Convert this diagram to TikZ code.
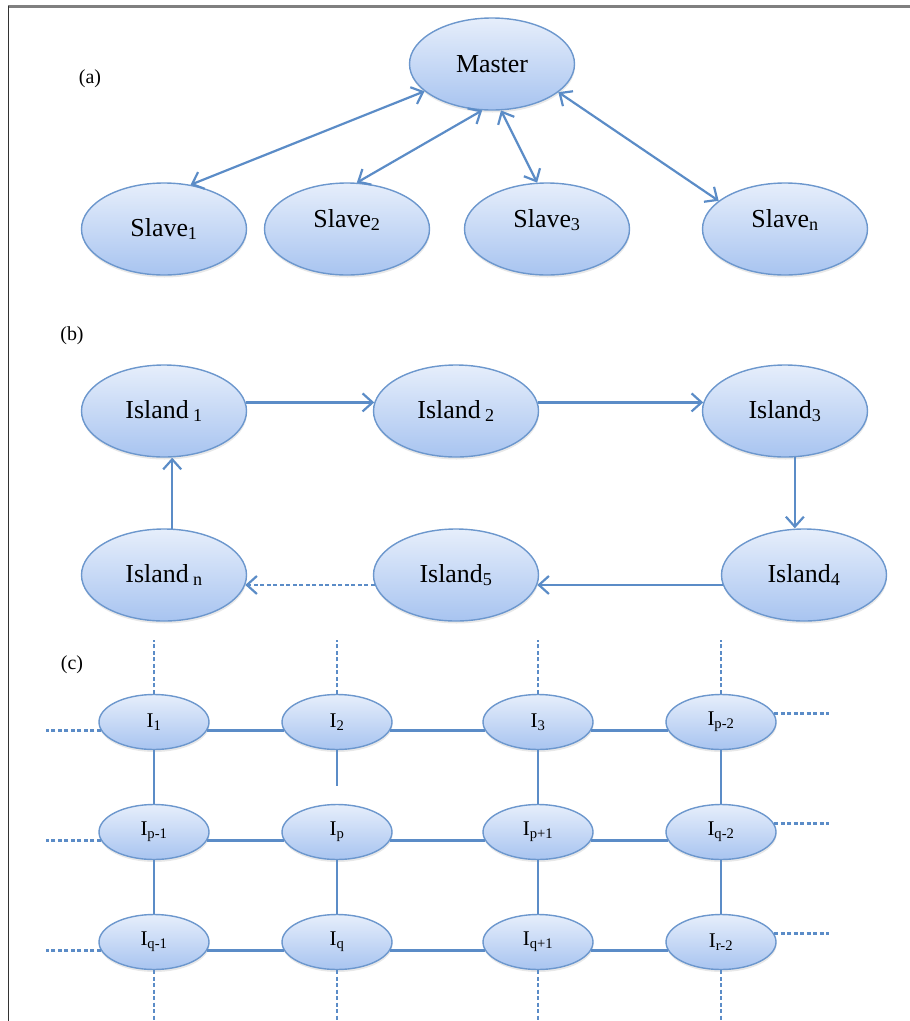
\documentclass[tikz,border=0pt]{standalone}
\usepackage{fontspec}
\setmainfont{Liberation Serif}
\usetikzlibrary{shapes.geometric,arrows.meta,shadows}
\definecolor{linkblue}{HTML}{5B8CC7}
\definecolor{rimblue}{HTML}{6C97CD}
\definecolor{topblue}{HTML}{E6EEFB}
\definecolor{botblue}{HTML}{A8C4F0}
\newcommand{\lift}[1]{\raisebox{9bp}[\height][\depth]{#1}}
\begin{document}
\begin{tikzpicture}[x=1bp,y=-1bp,
		bubble/.style={ellipse,draw=rimblue,line width=1.4bp,top color=topblue,bottom color=botblue,
			drop shadow={opacity=0.18,shadow xshift=0.5bp,shadow yshift=-2.5bp},
			inner sep=0pt,minimum width=165bp,minimum height=92bp,font=\fontsize{26}{28}\selectfont},
		cell/.style={bubble,minimum width=110bp,minimum height=55bp,font=\fontsize{21}{24}\selectfont},
		link/.style={linkblue,line width=2.2bp},
		loose/.style={link,dash pattern=on 4bp off 2.5bp},
		tag/.style={font=\fontsize{20}{22}\selectfont},
		>={Straight Barb[length=10bp,width=18bp]}]
		\useasboundingbox (0,0) rectangle (910,1021);
		\draw[black!50,line width=2.5bp] (8,6.5) -- (910,6.5);
		\draw[black!80,line width=1.2bp] (8.5,6) -- (8.5,1021);
		% (a)
		\node[tag] (ta) at (90,79) {(a)};
		\node[bubble] (m) at (492,64) {Master};
		\node[bubble] (s1) at (164,229) {Slave\textsubscript{1}};
		\node[bubble] (s2) at (347,229) {\lift{Slave\textsubscript{2}}};
		\node[bubble] (s3) at (547,229) {\lift{Slave\textsubscript{3}}};
		\node[bubble] (sn) at (785,229) {\lift{Slave\textsubscript{n}}};
		\draw[link,<->] (m.202) -- (s1.59);
		\draw[link,<->] (m.258) -- (s2.78);
		\draw[link,<->] (m.281) -- (s3.102);
		\draw[link,<->] (m.337) -- (sn.157);
		% (b)
		\node[tag] (tb) at (72,336) {(b)};
		\node[bubble] (i1) at (164,411) {Island\,\textsubscript{1}};
		\node[bubble] (i2) at (456,411) {Island\,\textsubscript{2}};
		\node[bubble] (i3) at (785,411) {Island\textsubscript{3}};
		\node[bubble] (i4) at (804,575) {Island\textsubscript{4}};
		\node[bubble] (i5) at (456,575) {Island\textsubscript{5}};
		\node[bubble] (in) at (164,575) {Island\,\textsubscript{n}};
		\draw[link,->] (i1.6) -- (i2.174);
		\draw[link,->] (i2.6) -- (i3.174);
		\draw[link,->] (i3.282) -- (i3.282 |- i4.north);
		\draw[link,->] (i4.187) -- (i5.353);
		\draw[loose,->] (i5.187) -- (in.353);
		\draw[link,->] (in.80) -- (in.80 |- i1.south);
		% (c)
		\node[tag] (tc) at (72,665) {(c)};
		\node[cell] (g11) at (154,722) {I\textsubscript{1}};
		\node[cell] (g12) at (337,722) {I\textsubscript{2}};
		\node[cell] (g13) at (538,722) {I\textsubscript{3}};
		\node[cell] (g14) at (721,722) {I\textsubscript{p-2}};
		\node[cell] (g21) at (154,832) {I\textsubscript{p-1}};
		\node[cell] (g22) at (337,832) {I\textsubscript{p}};
		\node[cell] (g23) at (538,832) {I\textsubscript{p+1}};
		\node[cell] (g24) at (721,832) {I\textsubscript{q-2}};
		\node[cell] (g31) at (154,942) {I\textsubscript{q-1}};
		\node[cell] (g32) at (337,942) {I\textsubscript{q}};
		\node[cell] (g33) at (538,942) {I\textsubscript{q+1}};
		\node[cell] (g34) at (721,942) {I\textsubscript{r-2}};
		\foreach \r in {1,2,3} {
			\foreach \c/\d in {1/2,2/3,3/4}
				\draw[link] (g\r\c.351) -- (g\r\d.189);
			\draw[loose] (g\r1.189) -- ++(-55,0);
			\draw[loose] (g\r4.9) -- ++(55,0);
		}
		\foreach \c in {1,3,4}
			\draw[link] (g1\c) -- (g2\c);
		\foreach \c in {1,2,3,4} {
			\draw[link] (g2\c) -- (g3\c);
			\draw[loose] (g1\c.north) -- ++(0,-54);
			\draw[loose] (g3\c.south) -- ++(0,52);
		}
		\draw[link] (g12.south) -- ++(0,36);
\end{tikzpicture}
\end{document}
